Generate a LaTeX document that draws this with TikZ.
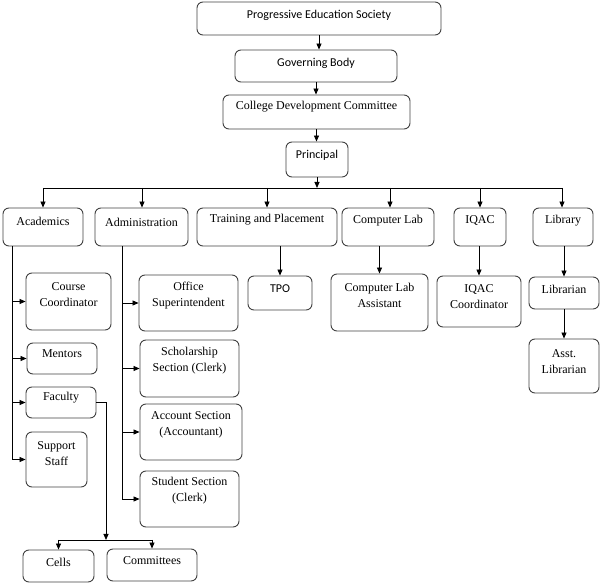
\documentclass[tikz,border=0pt]{standalone}
\usepackage{fontspec}
\setmainfont{Liberation Serif}
\newfontfamily\sansf{Carlito}
\usetikzlibrary{arrows.meta}
\tikzset{
  bx/.style={draw=black!75, line width=0.9pt, rounded corners=6pt, inner sep=0pt},
  tx/.style={font=\fontsize{12}{16}\selectfont, align=center, inner sep=0pt, text=black},
  stx/.style={tx, font=\sansf\fontsize{12}{16}\selectfont},
  ln/.style={draw=black, line width=0.8pt},
  arr/.style={ln, -{Triangle[length=6pt,width=5pt]}}
}
\newcommand\obox[6]{\node[bx, minimum width=#4pt, minimum height=#5pt] (#1) at (#2,#3) {};}
\begin{document}
\begin{tikzpicture}[x=1pt,y=-1pt]
\useasboundingbox (0,0) rectangle (606,585);
% boxes
\obox{pes}{319}{18.5}{244}{33}{}
\obox{gb}{316}{66}{162}{32}{}
\obox{cdc}{316.5}{112}{187}{34}{}
\obox{prin}{317}{159.5}{62}{35}{}
\obox{acad}{43}{227}{80}{38}{}
\obox{adm}{141.5}{227}{93}{38}{}
\obox{tp}{267}{227}{140}{38}{}
\obox{cl}{388}{227}{92}{38}{}
\obox{iqac}{480}{227}{52}{38}{}
\obox{lib}{563}{227}{60}{38}{}
\obox{cc}{68.5}{301.5}{85}{57}{}
\obox{men}{62}{358.5}{70}{31}{}
\obox{fac}{61}{402.5}{70}{31}{}
\obox{ss}{56.5}{459.5}{61}{55}{}
\obox{os}{188.5}{303}{99}{56}{}
\obox{sch}{189.5}{368.5}{99}{57}{}
\obox{acc}{191}{432}{102}{56}{}
\obox{stu}{189.5}{499}{99}{56}{}
\obox{tpo}{280}{293}{64}{34}{}
\obox{cla}{379.5}{302.5}{97}{57}{}
\obox{iqc}{479}{301.5}{84}{51}{}
\obox{libn}{564}{293}{70}{32}{}
\obox{alib}{564}{366}{70}{54}{}
\obox{cells}{58.5}{566}{71}{32}{}
\obox{comm}{152}{565}{90}{32}{}
% texts
\node[stx] (pest) at (319,15) {Progressive Education Society};
\node[stx] (gbt) at (316,63) {Governing Body};
\node[tx] (cdct) at (316.5,107) {College Development Committee};
\node[stx] (print) at (317,155) {Principal};
\node[tx] (acadt) at (43,221) {Academics};
\node[tx] (admt) at (141.5,222) {Administration};
\node[tx] (tpt) at (267,220) {Training and Placement};
\node[tx] (clt) at (388,221) {Computer Lab};
\node[tx] (iqact) at (480,221) {IQAC};
\node[tx] (libt) at (563,221) {Library};
\node[tx] (cct) at (68.5,295) {Course\\Coordinator};
\node[tx] (ment) at (62,354) {Mentors};
\node[tx] (fact) at (61,398) {Faculty};
\node[tx] (sst) at (56.5,453.5) {Support\\Staff};
\node[tx] (ost) at (188.5,295.5) {Office\\Superintendent};
\node[tx] (scht) at (189.5,361) {Scholarship\\Section (Clerk)};
\node[tx] (acct) at (191,424.5) {Account Section\\(Accountant)};
\node[tx] (stut) at (189.5,491) {Student Section\\(Clerk)};
\node[stx] (tpot) at (280,289) {TPO};
\node[tx] (clat) at (379.5,295.5) {Computer Lab\\Assistant};
\node[tx] (iqct) at (479,297) {IQAC\\Coordinator};
\node[tx] (libnt) at (564,289) {Librarian};
\node[tx] (alibt) at (564,361.5) {Asst.\\Librarian};
\node[tx] (cellst) at (58.5,562) {Cells};
\node[tx] (commt) at (152,561) {Committees};
% connectors top chain
\draw[arr] (pes.south) -- (pes.south |- gb.north);
\draw[arr] (gb.south) -- (gb.south |- cdc.north);
\draw[arr] (cdc.south) -- (cdc.south |- prin.north);
\coordinate (bus) at (317,188);
\draw[arr] (prin.south) -- (bus);
\draw[ln] (acad.north |- bus) -- (562,188) coordinate (busr);
\draw[arr] (acad.north |- bus) -- (acad.north);
\draw[arr] (142,188) -- (adm.north -| 142,0);
\draw[arr] (tp.north |- bus) -- (tp.north);
\draw[arr] (390,188) -- (cl.north -| 390,0);
\draw[arr] (iqac.north |- bus) -- (iqac.north);
\draw[arr] (busr) -- (lib.north -| busr);
% academics spine
\coordinate (asp) at (12,0);
\draw[ln] (asp |- acad.south) -- (asp |- ss.west);
\draw[arr] (asp |- cc.west) -- (cc.west);
\draw[arr] (asp |- men.west) -- (men.west);
\draw[arr] (asp |- fac.west) -- (fac.west);
\draw[arr] (asp |- ss.west) -- (ss.west);
% administration spine
\coordinate (dsp) at (122,0);
\draw[ln] (dsp |- adm.south) -- (dsp |- stu.west);
\draw[arr] (dsp |- os.west) -- (os.west);
\draw[arr] (dsp |- sch.west) -- (sch.west);
\draw[arr] (dsp |- acc.west) -- (acc.west);
\draw[arr] (dsp |- stu.west) -- (stu.west);
% single children
\draw[arr] (tpo.north |- tp.south) -- (tpo.north);
\draw[arr] (cla.north |- cl.south) -- (cla.north);
\draw[arr] (iqc.north |- iqac.south) -- (iqc.north);
\draw[arr] (libn.north |- lib.south) -- (libn.north);
\draw[arr] (libn.south) -- (alib.north);
% faculty to cells/committees
\coordinate (fj) at (106,540);
\draw[arr] (fac.east) -| (fj);
\draw[ln] (cells.north |- fj) -- (comm.north |- fj);
\draw[arr] (cells.north |- fj) -- (cells.north);
\draw[arr] (comm.north |- fj) -- (comm.north);
\end{tikzpicture}
\end{document}
